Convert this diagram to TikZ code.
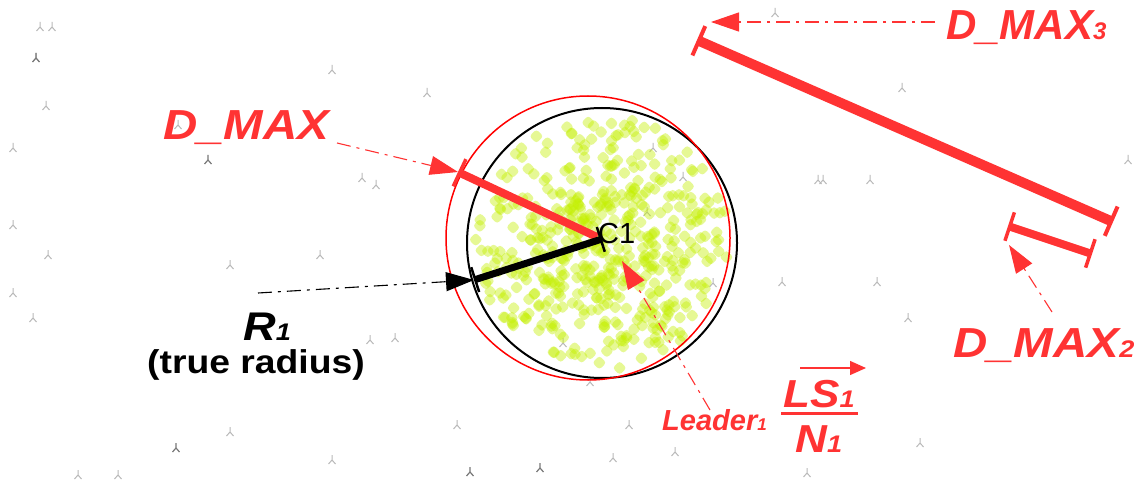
\documentclass[tikz,border=0pt]{standalone}
\usepackage{fontspec}
\setmainfont{Liberation Sans}
\usetikzlibrary{arrows.meta,calc}
\definecolor{dred}{RGB}{255,51,51}
\definecolor{dgreen}{RGB}{196,240,0}
\definecolor{trip}{RGB}{185,185,185}
\definecolor{tripd}{RGB}{120,120,120}
\tikzset{
  lbl/.style={text=dred, font=\bfseries\itshape\fontsize{42}{42}\selectfont, inner sep=0pt, anchor=base west},
  ann/.style={dred, line width=1.1pt, dash pattern=on 14pt off 6pt on 3pt off 6pt, -{Triangle[length=28pt,width=19pt]}},
  annblk/.style={ann, black},
  tripod/.pic={\draw[trip, line width=1pt] (0,-5)--(0,0) (-3.5,4)--(0,0)--(3.5,4);},
  tripodd/.pic={\draw[tripd, line width=1.2pt] (0,-5)--(0,0) (-3.5,4)--(0,0)--(3.5,4);},
}
\newcommand{\sbs}[1]{{\fontsize{24}{24}\selectfont #1}}
\newcommand{\wide}[1]{\scalebox{1.13}[1]{#1}}
\begin{document}
\begin{tikzpicture}[x=1pt,y=-1pt]
\useasboundingbox (0,0) rectangle (1134,481);
\fill[white] (0,0) rectangle (1134,481);
% background tripods
\foreach \p in {(40,27),(52,27),(36,58),(46,106),(178,125),(332,70),(362,178),(376,185),(13,148),(13,225),(48,255),(230,265),(320,255),(13,293),(33,318),(370,340),(395,338),(230,432),(332,460),(457,425),(78,475),(118,475),(818,180),(870,180),(782,282),(877,282),(908,318),(629,425),(613,458),(675,452),(920,443),(807,473),(775,13),(902,88),(823,180),(427,93),(653,148),(683,177),(647,212),(713,283),(563,343),(590,382),(1128,160)}
  \pic at \p {tripod};
\foreach \p in {(36,58),(208,160),(176,448),(470,472),(540,468)}
  \pic at \p {tripodd};
% green cloud
\pgfmathsetseed{7}
\foreach \i in {1,...,420}{
  \pgfmathsetmacro\rr{127*sqrt(rnd)}
  \pgfmathsetmacro\aa{360*rnd}
  \fill[dgreen, fill opacity=0.42, rounded corners=3pt, shift={(602,243)}]
    (\aa:\rr) ++(-7,0) -- ++(7,-7) -- ++(7,7) -- ++(-7,7) -- cycle;
}
\pgfmathsetseed{11}
\foreach \i in {1,...,110}{
  \pgfmathsetmacro\rr{60*sqrt(rnd)}
  \pgfmathsetmacro\aa{360*rnd}
  \fill[dgreen, fill opacity=0.4, rounded corners=3pt, shift={(595,252)}]
    (\aa:\rr) ++(-7,0) -- ++(7,-7) -- ++(7,7) -- ++(-7,7) -- cycle;
}
% circles
\coordinate (c1) at (602,239);
\draw[black, line width=2pt] (602,243) circle[radius=135];
\draw[red, line width=1.5pt] (588,238) circle[radius=142];
% measure bars
\coordinate (dmA) at (458,172);
\coordinate (dmB) at (597,237);
\draw[dred, line width=8pt, {Bar[width=30pt,line width=3.5pt]}-] (dmA) -- (dmB);
\coordinate (rA) at (474,280);
\draw[black, line width=7pt, {Bar[width=26pt,line width=2.5pt]}-{Bar[width=26pt,line width=2.5pt]}] (rA) -- (c1);
\coordinate (d3A) at (697,40);
\coordinate (d3B) at (1113,222);
\draw[dred, line width=10pt, {Bar[width=32pt,line width=4pt]}-{Bar[width=32pt,line width=4pt]}] (d3A) -- (d3B);
\coordinate (d2A) at (1008,226);
\coordinate (d2B) at (1092,254);
\draw[dred, line width=8pt, {Bar[width=30pt,line width=3.5pt]}-{Bar[width=30pt,line width=3.5pt]}] (d2A) -- (d2B);
% labels
\node[inner sep=0pt, anchor=base west, font=\fontsize{29}{29}\selectfont] (c1lbl) at (598,243) {C1};
\node[lbl] (dmax) at (163,140) {\wide{D\_MAX}};
\node[lbl] (dmax3) at (946,40) {D\_MAX\sbs{3}};
\node[lbl] (dmax2) at (953,357) {\wide{D\_MAX\sbs{2}}};
\node[lbl, text=black, font=\bfseries\itshape\fontsize{40}{40}\selectfont] (r1) at (243,340) {\wide{R\sbs{1}}};
\node[inner sep=0pt, anchor=base west, font=\bfseries\fontsize{33}{33}\selectfont] (truer) at (147,373) {\wide{(true radius)}};
\node[lbl, font=\bfseries\itshape\fontsize{29}{29}\selectfont] (leader) at (662,430) {Leader{\fontsize{17}{17}\selectfont 1}};
\node[lbl, font=\bfseries\itshape\fontsize{39}{39}\selectfont] (ls) at (783,407) {\wide{LS\sbs{1}}};
\node[lbl, font=\bfseries\itshape\fontsize{39}{39}\selectfont] (n1) at (795,452) {\wide{N\sbs{1}}};
\coordinate (fracL) at (781,413);
\coordinate (fracR) at (858,413);
\draw[dred, line width=3pt] (fracL) -- (fracR);
\coordinate (vecL) at (800,368);
\coordinate (vecR) at (866,368);
\draw[dred, line width=1.3pt, -{Triangle[length=16pt,width=14pt]}] (vecL) -- (vecR);
% annotation arrows
\coordinate (a1s) at (337,143);
\draw[ann] (a1s) -- (dmA);
\coordinate (a3s) at (935,22);
\coordinate (a3e) at (711,22);
\draw[ann] (a3s) -- (a3e);
\coordinate (a2s) at (1052,312);
\coordinate (a2e) at (1009,245);
\draw[ann] (a2s) -- (a2e);
\coordinate (als) at (710,410);
\coordinate (ale) at (622,261);
\draw[ann] (als) -- (ale);
\coordinate (ars) at (258,293);
\draw[annblk] (ars) -- (rA);
\end{tikzpicture}
\end{document}
